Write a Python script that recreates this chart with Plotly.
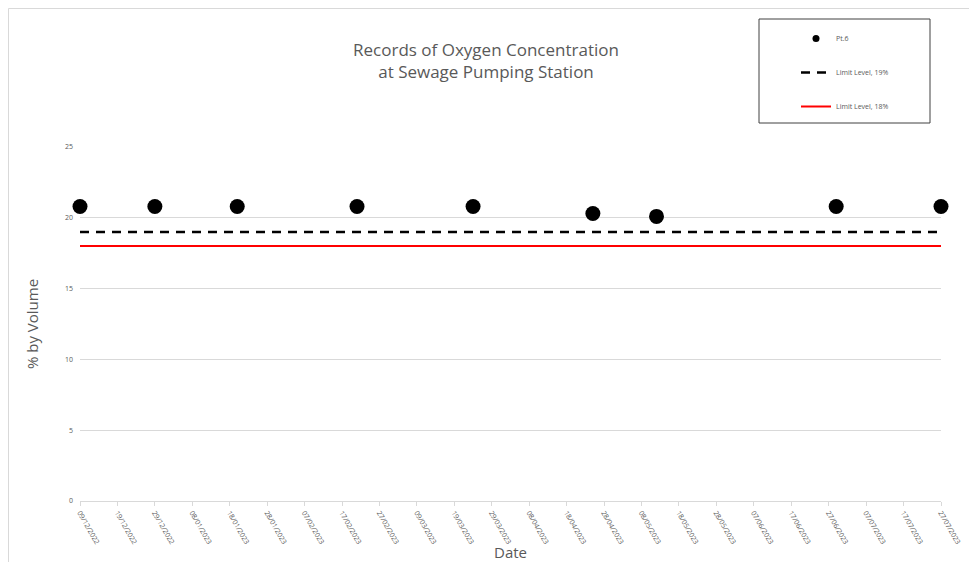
import plotly.graph_objects as go

# Oxygen readings at Pt.6
dates = ["2022-12-09", "2022-12-29", "2023-01-20", "2023-02-21", "2023-03-24",
         "2023-04-25", "2023-05-12", "2023-06-29", "2023-07-27"]
oxygen = [20.8, 20.8, 20.8, 20.8, 20.8, 20.3, 20.1, 20.8, 20.8]

# limit levels over the whole period
limit_dates = ["2022-12-09", "2023-07-27"]
limit_19 = [19, 19]
limit_18 = [18, 18]

grey = "#595959"
font = "Open Sans"

# page has an 8px body margin, so the figure is a bit smaller than the window
W, H = 969, 554
L, T = 72, 139
PW, PH = 861, 354

fig = go.Figure()

fig.add_trace(go.Scatter(x=dates, y=oxygen, mode="markers", name="Pt.6",
                         marker=dict(color="black", size=15), cliponaxis=False,
                         showlegend=False))
# small marker just for the legend entry
fig.add_trace(go.Scatter(x=[None], y=[None], mode="markers", name="Pt.6",
                         marker=dict(color="black", size=7), legendgroup="a"))
fig.add_trace(go.Scatter(x=limit_dates, y=limit_19, mode="lines", name="Limit Level, 19%",
                         line=dict(color="black", width=2.5, dash="9px,7px"),
                         legendgroup="b"))
fig.add_trace(go.Scatter(x=limit_dates, y=limit_18, mode="lines", name="Limit Level, 18%",
                         line=dict(color="#ff0000", width=2),
                         legendgroup="c"))


def px(x):
    return (x - 8 - L) / PW


def py(y):
    return (T + PH - (y - 8)) / PH


fig.update_layout(
    width=W, height=H,
    margin=dict(l=L, r=W - L - PW, t=T, b=H - T - PH, autoexpand=False),
    paper_bgcolor="white", plot_bgcolor="white",
    font=dict(family=font, color=grey),
    title=dict(text="Records of Oxygen Concentration<br>at Sewage Pumping Station",
               x=478 / W, xanchor="center", y=0.913, yanchor="top",
               font=dict(size=17, color=grey)),
    showlegend=True,
    legend=dict(x=px(796), xanchor="left", y=py(24), yanchor="top",
                bgcolor="rgba(0,0,0,0)", borderwidth=0, tracegroupgap=15,
                font=dict(size=7, color=grey)),
    xaxis=dict(
        type="date", range=["2022-12-09", "2023-07-27"],
        tick0="2022-12-09", dtick=864000000, tickformat="%d/%m/%Y",
        tickangle=60, tickfont=dict(size=7, color=grey),
        showgrid=False, showline=True, linecolor="#d9d9d9", linewidth=1,
        ticks="outside", ticklen=4, tickcolor="#d9d9d9", automargin=False,
        title=dict(text="Date", font=dict(size=15, color=grey), standoff=2),
    ),
    yaxis=dict(
        range=[0, 25], dtick=5, tickfont=dict(size=7, color=grey),
        showgrid=True, gridcolor="#d9d9d9", gridwidth=1, zeroline=False,
        showline=False, ticklen=0, ticks="", automargin=False,
        ticklabelstandoff=6,
        title=dict(text="% by Volume", font=dict(size=15, color=grey), standoff=22),
    ),
    shapes=[
        # legend box
        dict(type="rect", xref="paper", yref="paper",
             x0=px(759), x1=px(930), y0=py(123), y1=py(19),
             line=dict(color="#404040", width=1), fillcolor="rgba(0,0,0,0)"),
        # chart area border
        dict(type="rect", xref="paper", yref="paper",
             x0=px(8.5), x1=1.2, y0=-0.5, y1=py(8.5),
             line=dict(color="#d9d9d9", width=1), fillcolor="rgba(0,0,0,0)"),
    ],
)

fig.write_html("out.html")
